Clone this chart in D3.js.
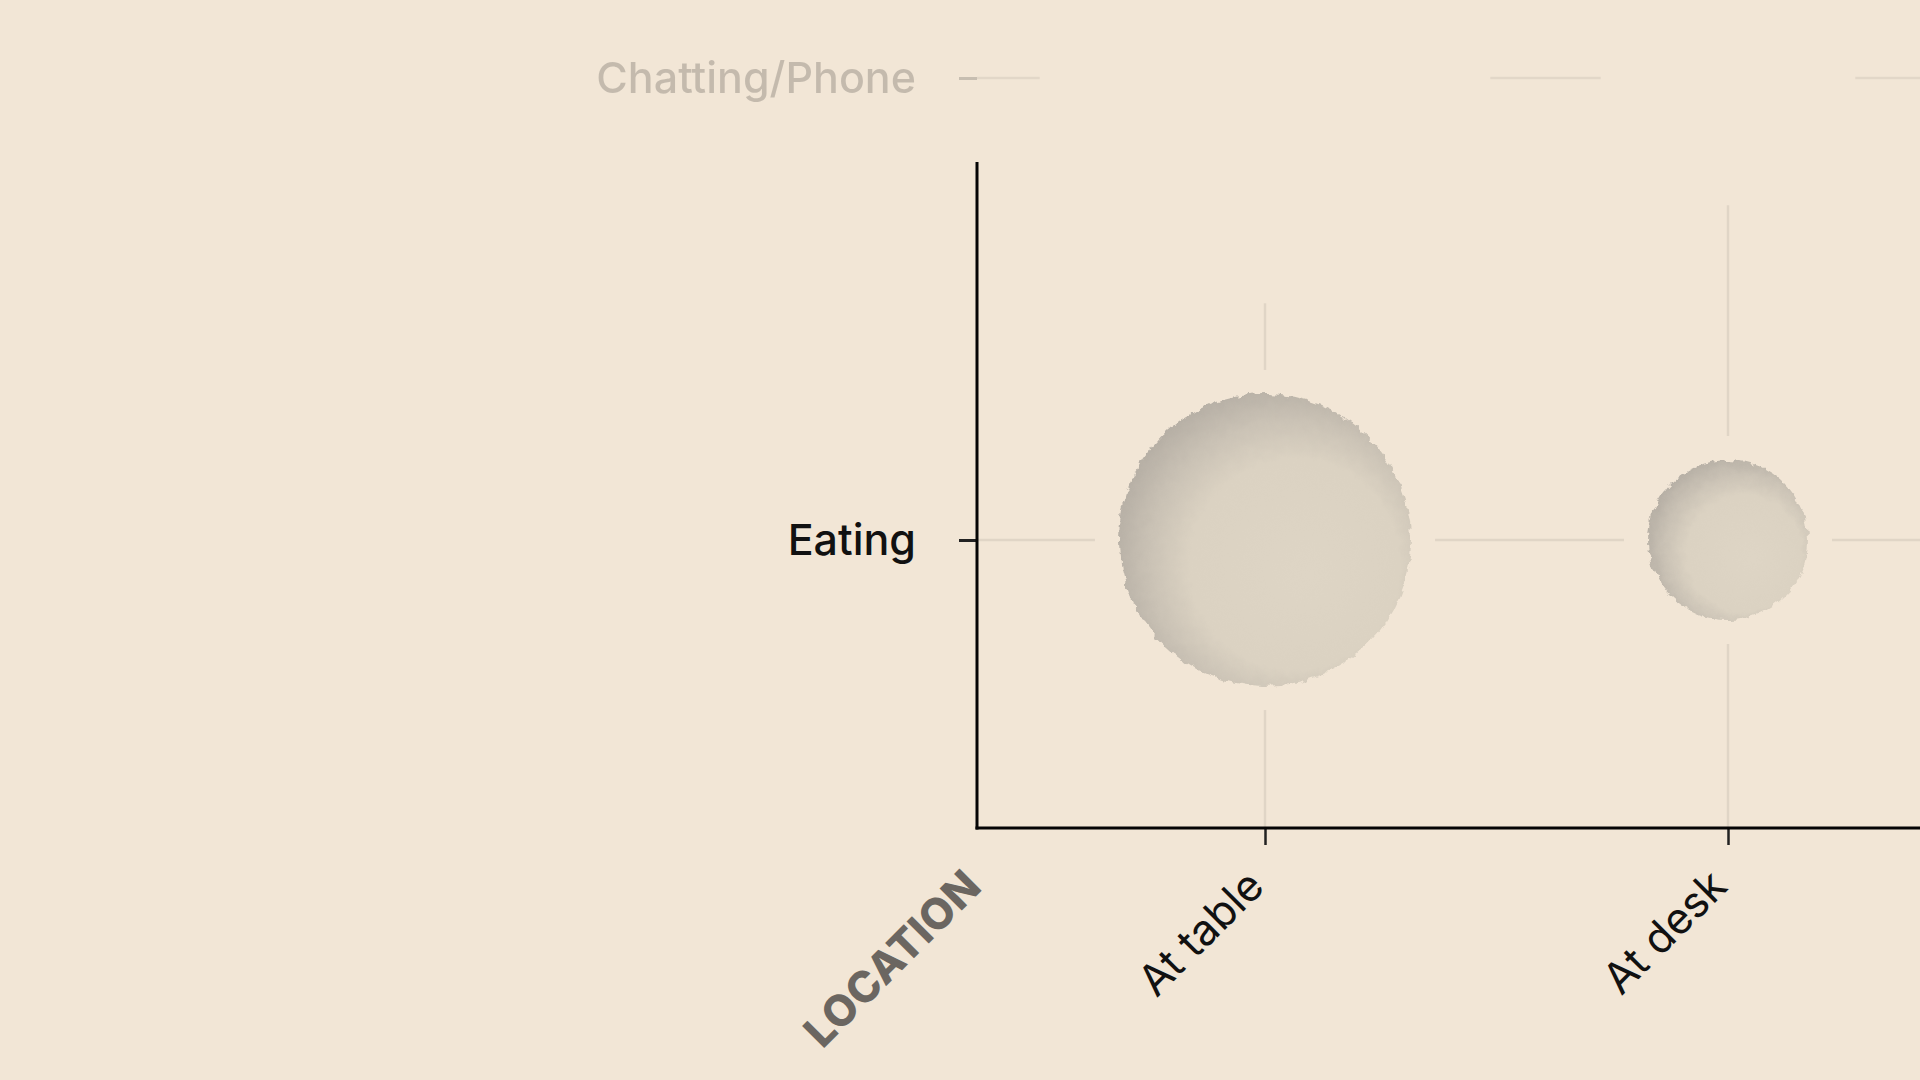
<!DOCTYPE html>
<html>
<head>
<meta charset="utf-8">
<script src="https://cdn.jsdelivr.net/npm/d3@7"></script>
<style>
  html, body { margin: 0; padding: 0; background: #f2e6d6; }
  svg { display: block; }
  text { font-family: Inter, Lato, "Noto Sans", sans-serif; }
</style>
</head>
<body>
<svg id="chart" width="1920" height="1080"></svg>
<script>
// ---- data ----
const activities = ["Chatting/Phone", "Eating"];
const locations = ["At table", "At desk"];
const chattingCounts = [19, 5];
const eatingCounts = [10, 3];
const xAxisTitle = "LOCATION";
const fadedActivities = ["Chatting/Phone"];

// ---- layout ----
const W = 1920, H = 1080;
const axisX = 977, axisTop = 162, axisBottom = 828;
const gap = 24;

const svg = d3.select("#chart");
svg.append("rect").attr("width", W).attr("height", H).attr("fill", "#f2e6d6");

const defs = svg.append("defs");
const grad = defs.append("radialGradient").attr("id", "bub")
  .attr("cx", "0.57").attr("cy", "0.56").attr("r", "0.6").attr("fx", "0.65").attr("fy", "0.62");
grad.append("stop").attr("offset", "0").attr("stop-color", "#ded5c5");
grad.append("stop").attr("offset", "0.6").attr("stop-color", "#dbd2c2");
grad.append("stop").attr("offset", "0.8").attr("stop-color", "#cac2b5");
grad.append("stop").attr("offset", "1").attr("stop-color", "#b5aea4");

const filt = defs.append("filter").attr("id", "rough")
  .attr("x", "-10%").attr("y", "-10%").attr("width", "120%").attr("height", "120%");
filt.append("feTurbulence").attr("type", "fractalNoise").attr("baseFrequency", "0.11")
  .attr("numOctaves", 3).attr("seed", 4).attr("result", "noise");
filt.append("feDisplacementMap").attr("in", "SourceGraphic").attr("in2", "noise")
  .attr("scale", 8).attr("xChannelSelector", "R").attr("yChannelSelector", "G");

// ---- scales ----
const y = d3.scalePoint().domain(activities).range([78, 540]);
const x = d3.scalePoint().domain(locations).range([1265, 1728]);
const r = d3.scaleSqrt().domain([0, d3.max(chattingCounts.concat(eatingCounts))]).range([0, 201.3]);

const bubbles = [];
const rows = [chattingCounts, eatingCounts];
activities.forEach((a, i) => {
  locations.forEach((l, j) => {
    bubbles.push({ activity: a, location: l, value: rows[i][j] });
  });
});

// ---- gridlines broken around bubbles ----
function segments(start, end, holes) {
  holes.sort((p, q) => p[0] - q[0]);
  const out = [];
  let cur = start;
  holes.forEach(h => {
    if (h[0] > cur) out.push([cur, Math.min(h[0], end)]);
    cur = Math.max(cur, h[1]);
  });
  if (cur < end) out.push([cur, end]);
  return out;
}
const grid = svg.append("g").attr("class", "grid");
activities.forEach(a => {
  const holes = bubbles.filter(b => b.activity === a)
    .map(b => [x(b.location) - r(b.value) - gap, x(b.location) + r(b.value) + gap]);
  const faded = fadedActivities.includes(a);
  segments(axisX, W, holes).forEach(s => {
    grid.append("line")
      .attr("x1", s[0]).attr("x2", s[1]).attr("y1", y(a)).attr("y2", y(a))
      .attr("stroke", "#e0d5c6").attr("stroke-width", 2.5)
      .attr("opacity", faded ? 0.85 : 1);
  });
});
locations.forEach(l => {
  const holes = bubbles.filter(b => b.location === l)
    .map(b => [y(b.activity) - r(b.value) - gap, y(b.activity) + r(b.value) + gap]);
  segments(0, axisBottom, holes).forEach(s => {
    grid.append("line")
      .attr("x1", x(l)).attr("x2", x(l)).attr("y1", s[0]).attr("y2", s[1])
      .attr("stroke", "#e0d5c6").attr("stroke-width", 2.5);
  });
});

// ---- bubbles ----
svg.append("g").selectAll("circle").data(bubbles).join("circle")
  .attr("cx", d => x(d.location))
  .attr("cy", d => y(d.activity))
  .attr("r", d => r(d.value))
  .attr("fill", "url(#bub)")
  .attr("filter", "url(#rough)")
  .attr("opacity", d => fadedActivities.includes(d.activity) ? 0 : 1);

// ---- axes ----
const yAxisG = svg.append("g").attr("transform", `translate(${axisX},0)`)
  .call(d3.axisLeft(y).tickSize(18).tickPadding(43));
yAxisG.select(".domain").remove();
yAxisG.selectAll(".tick line").attr("stroke", "#222").attr("stroke-width", 3);
yAxisG.selectAll(".tick text").attr("font-size", 43).attr("font-weight", 500)
  .attr("fill", "#111").attr("dy", "0.34em");
yAxisG.selectAll(".tick").filter(d => fadedActivities.includes(d)).attr("opacity", 0.2);

const xAxisG = svg.append("g").attr("transform", `translate(0,${axisBottom})`)
  .call(d3.axisBottom(x).tickSize(17).tickPadding(0));
xAxisG.select(".domain").remove();
xAxisG.selectAll(".tick line").attr("stroke", "#222").attr("stroke-width", 2.5);
xAxisG.selectAll(".tick text")
  .attr("font-size", 43).attr("fill", "#111")
  .attr("text-anchor", "end")
  .attr("transform", "translate(-10,50) rotate(-45)")
  .attr("dy", "0.35em").attr("y", 0);

// axis lines
svg.append("line").attr("x1", axisX).attr("x2", axisX).attr("y1", axisTop).attr("y2", axisBottom + 1.5)
  .attr("stroke", "#050505").attr("stroke-width", 3);
svg.append("line").attr("x1", axisX - 1.5).attr("x2", W).attr("y1", axisBottom).attr("y2", axisBottom)
  .attr("stroke", "#050505").attr("stroke-width", 3);

// axis title
svg.append("text")
  .attr("transform", `translate(${axisX - 4},${axisBottom + 50}) rotate(-45)`)
  .attr("text-anchor", "end").attr("dy", "0.35em")
  .attr("font-size", 43).attr("font-weight", 800).attr("letter-spacing", 0.5)
  .attr("fill", "#6b6661")
  .text(xAxisTitle);
</script>
</body>
</html>
